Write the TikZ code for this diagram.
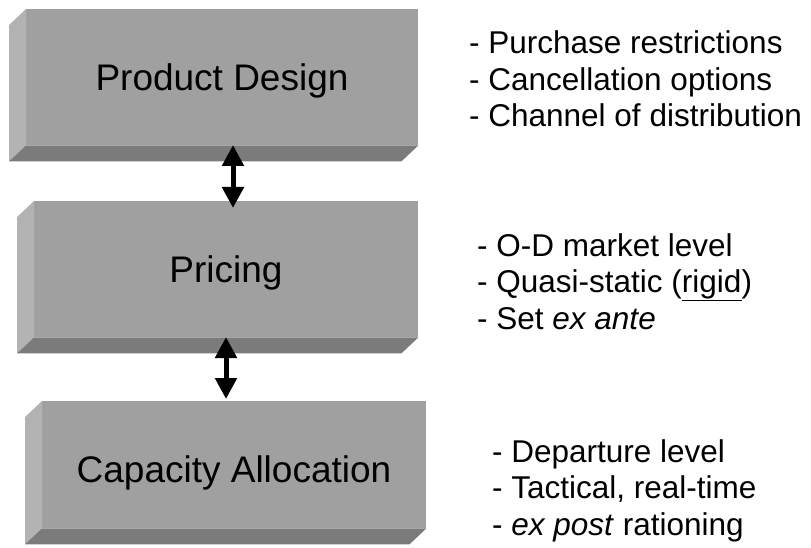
\documentclass[tikz,border=0pt]{standalone}
\usepackage{fontspec}
\setmainfont{Liberation Sans}
\usetikzlibrary{arrows.meta,calc}
\definecolor{faceg}{RGB}{160,160,160}
\definecolor{sideg}{RGB}{179,179,179}
\definecolor{bottomg}{RGB}{123,123,123}
\tikzset{
  face/.style={fill=faceg, draw=none, rectangle, inner sep=0pt, anchor=north west},
  sideface/.style={fill=sideg, draw=none},
  bottomface/.style={fill=bottomg, draw=none},
  boxlabel/.style={anchor=base, inner sep=0pt, font=\fontsize{37}{40}\selectfont},
  notes/.style={anchor=base west, inner sep=0pt, align=left,
    font=\fontsize{31.5}{36.5}\selectfont},
  dblarrow/.style={line width=5pt, {Triangle[width=21pt,length=21pt]}-{Triangle[width=21pt,length=21pt]}},
}
\newcommand{\bevelbox}[3]{%
  % #1 name of the front face, #2 bevel dx, #3 bevel dy
  \fill[sideface] (#1.north west) -- (#1.south west) -- ++(#2,#3) -- ($(#1.north west)+(#2,#3)$) -- cycle;
  \fill[bottomface] (#1.south west) -- (#1.south east) -- ++(#2,#3) -- ($(#1.south west)+(#2,#3)$) -- cycle;
}
\begin{document}
\begin{tikzpicture}[x=1pt,y=-1pt]
\useasboundingbox (0,0) rectangle (811,548);

% front faces of the three blocks
\node[face, minimum width=392pt, minimum height=136pt] (f1) at (26,9) {};
\node[face, minimum width=384pt, minimum height=136pt] (f2) at (34,201) {};
\node[face, minimum width=384pt, minimum height=127pt] (f3) at (42,401) {};

% bevelled left and bottom sides
\bevelbox{f1}{-17}{16}
\bevelbox{f2}{-17}{16}
\bevelbox{f3}{-17}{16}

% block titles
\node[boxlabel] (t1) at (222,91) {Product Design};
\node[boxlabel] (t2) at (226,282) {Pricing};
\node[boxlabel] (t3) at (234,482) {Capacity Allocation};

% two-way links between the blocks
\coordinate (a1s) at (233,145);
\coordinate (a1e) at (233,208);
\coordinate (a2s) at (226,337);
\coordinate (a2e) at (226,399);
\draw[dblarrow] (a1s) -- (a1e);
\draw[dblarrow] (a2s) -- (a2e);

% notes beside each block (anchored at the baseline of the last line)
\node[notes] (n1) at (469,127) {- Purchase restrictions\\- Cancellation options\\- Channel of distribution};
\node[notes] (n2) at (477,329) {- O-D market level\\- Quasi-static (\underline{rigid})\\- Set \textit{ex ante}};
\node[notes] (n3) at (492,535) {- Departure level\\- Tactical, real-time\\- \textit{ex post} rationing};
\end{tikzpicture}
\end{document}
